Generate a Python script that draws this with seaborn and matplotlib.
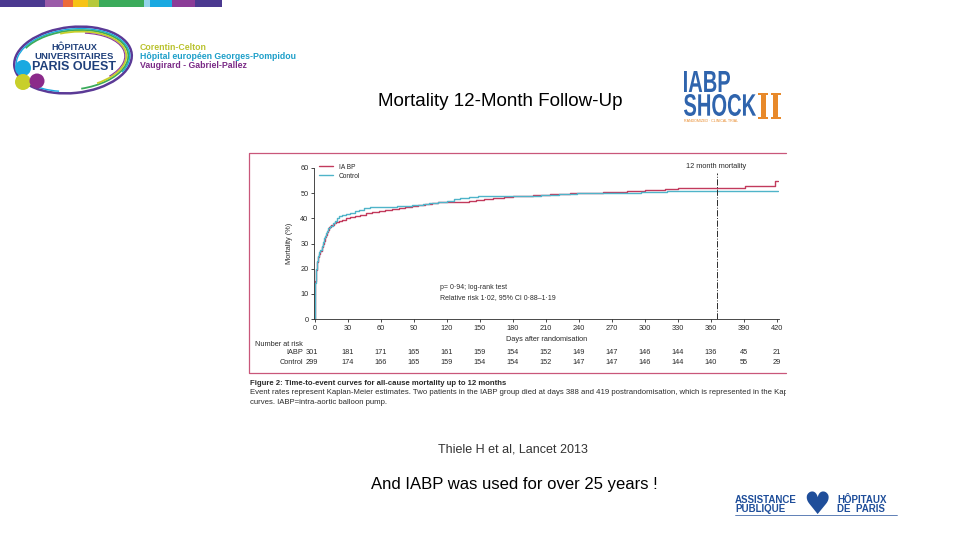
import matplotlib
matplotlib.use("Agg")
import matplotlib.pyplot as plt
import matplotlib.patches as mpatches
from matplotlib.textpath import TextPath
from matplotlib.font_manager import FontProperties
from matplotlib.transforms import Affine2D, blended_transform_factory
import pandas as pd
import seaborn as sns

# Kaplan-Meier curves (days after randomisation, mortality %)
iabp_days = [0, 0.4, 1, 2, 3, 4, 5, 6, 7, 8, 9, 10, 11, 12, 13, 15, 17, 19, 22, 25,
             28, 32, 36, 41, 46, 52, 58, 64, 70, 76, 82, 88, 94, 100, 106, 112, 140,
             146, 154, 162, 172, 180, 198, 214, 232, 262, 276, 284, 300, 318, 330,
             391, 418, 421]
iabp_mort = [0, 15.0, 19.5, 22.5, 24.5, 26.0, 27.0, 28.5, 30.0, 31.0, 32.5, 33.5, 34.5,
             35.5, 36.5, 37.3, 38.0, 38.5, 39.0, 39.5, 40.0, 40.5, 41.0, 41.5, 42.0,
             42.4, 42.8, 43.2, 43.6, 44.0, 44.4, 44.8, 45.2, 45.6, 46.0, 46.4, 46.8,
             47.2, 47.6, 48.0, 48.4, 48.8, 49.2, 49.6, 50.0, 50.3, 50.6, 51.0, 51.3,
             51.6, 52.0, 52.8, 55.0, 55.0]

control_days = [0, 0.4, 1, 2, 3, 4, 5, 6, 7, 8, 9, 10, 11, 12, 14, 16, 18, 20, 22, 25,
                28, 32, 36, 40, 45, 50, 75, 88, 98, 104, 112, 120, 126, 132, 140, 148,
                205, 222, 238, 268, 296, 320, 345, 421]
control_mort = [0, 14.5, 20.0, 23.0, 25.0, 26.5, 27.5, 29.0, 30.5, 32.0, 33.0, 34.0,
                35.0, 36.0, 37.0, 38.0, 39.0, 40.0, 40.8, 41.3, 41.7, 42.3, 43.0, 43.5,
                44.0, 44.5, 44.9, 45.3, 45.7, 46.1, 46.5, 47.0, 47.6, 48.2, 48.6, 49.0,
                49.3, 49.6, 49.9, 50.1, 50.4, 50.7, 51.0, 51.0]

# number at risk table
risk_days = [0, 30, 60, 90, 120, 150, 180, 210, 240, 270, 300, 330, 360, 390, 420]
risk_iabp = [301, 181, 171, 165, 161, 159, 154, 152, 149, 147, 146, 144, 136, 45, 21]
risk_control = [299, 174, 166, 165, 159, 154, 154, 152, 147, 147, 146, 144, 140, 55, 29]

IABP_COL = "#c23a5c"
CTRL_COL = "#4fb4c9"
INK = "#2b2b2b"

sns.set_style("ticks")
plt.rcParams["font.family"] = ["Liberation Sans", "DejaVu Sans"]

fig = plt.figure(figsize=(9.6, 5.4), dpi=100)

# background layer in slide pixels (y down) for the logos and slide text
bg = fig.add_axes([0, 0, 1, 1], zorder=0)
bg.set_xlim(0, 960)
bg.set_ylim(540, 0)
bg.axis("off")


def fit_text(s, x0, x1, ytop, ybot, color, weight="bold", family="Liberation Sans"):
    # squeeze a word into a pixel box, the logos use condensed lettering
    tp = TextPath((0, 0), s, size=10, prop=FontProperties(family=family, weight=weight))
    bb = tp.get_extents()
    tr = (Affine2D().translate(-bb.x0, -bb.y0)
          .scale((x1 - x0) / bb.width, -(ybot - ytop) / bb.height)
          .translate(x0, ybot))
    bg.add_patch(mpatches.PathPatch(tp, transform=tr + bg.transData,
                                    facecolor=color, edgecolor="none"))


# coloured strip top left
strip_edges = [0, 45, 63, 73, 88, 99, 144, 150, 172, 195, 222]
strip_cols = ["#4b3990", "#9b5ba8", "#ec6a3a", "#f7c316", "#b6c93c",
              "#3bab5b", "#93d3eb", "#1aa9e1", "#8b3c97", "#4b3990"]
for x0, x1, c in zip(strip_edges[:-1], strip_edges[1:], strip_cols):
    bg.add_patch(mpatches.Rectangle((x0, 0), x1 - x0, 7, color=c, lw=0))

# Hopitaux Universitaires Paris Ouest logo
for w, h, c, lw, t1, t2 in [(118, 66, "#5b3a96", 1.8, 0, 360),
                            (114, 62, "#1aa9e1", 1.0, 120, 20),
                            (111, 59, "#3bab5b", 1.3, 200, 80),
                            (107, 56, "#c8cf2a", 1.3, 250, 50),
                            (104, 53, "#8b3c97", 0.8, 300, 30)]:
    bg.add_patch(mpatches.Arc((73, 60), w, h, angle=-6, theta1=t1, theta2=t2,
                              color=c, lw=lw))
bg.add_patch(mpatches.Circle((23, 68), 8, color="#1aa9e1", lw=0))
bg.add_patch(mpatches.Circle((23, 82), 8, color="#c8cf2a", lw=0))
bg.add_patch(mpatches.Circle((37, 81), 7.5, color="#8b2a8a", lw=0))
hup = "#1e3f7a"
bg.text(74, 47, "HÔPITAUX", fontsize=6.5, weight="bold", color=hup, ha="center", va="center")
bg.text(74, 56.5, "UNIVERSITAIRES", fontsize=6.8, weight="bold", color=hup, ha="center", va="center")
bg.text(74, 66.5, "PARIS OUEST", fontsize=9, weight="bold", color=hup, ha="center", va="center")
bg.text(140, 47, "Corentin-Celton", fontsize=6.3, weight="bold", color="#b9c22e", va="center")
bg.text(140, 56.5, "Hôpital européen Georges-Pompidou", fontsize=6.3, weight="bold",
        color="#1d9fc9", va="center")
bg.text(140, 65.5, "Vaugirard - Gabriel-Pallez", fontsize=6.3, weight="bold",
        color="#7a2a86", va="center")

# IABP-SHOCK II logo
fit_text("IABP", 684, 730, 71, 92, "#2f64ad")
fit_text("SHOCK", 684, 756, 94, 116, "#2f64ad")
fit_text("II", 758, 781, 93, 119, "#e8892a", weight="bold", family="DejaVu Serif")
bg.text(684, 121.5, "RANDOMIZED · CLINICAL TRIAL", fontsize=2.6, color="#e8892a", va="center")

# AP-HP logo bottom right
aphp = "#1f4e9a"
bg.text(735, 500, "ASSISTANCE", fontsize=7, weight="bold", color=aphp, va="center")
bg.text(735, 508.5, "PUBLIQUE", fontsize=7, weight="bold", color=aphp, va="center")
bg.text(837, 500, "HÔPITAUX", fontsize=7, weight="bold", color=aphp, va="center")
bg.text(837, 508.5, "DE  PARIS", fontsize=7, weight="bold", color=aphp, va="center")
bg.text(817, 505, "♥", fontsize=22, color=aphp, ha="center", va="center",
        family="DejaVu Sans")
bg.plot([735, 897], [515, 515], color=aphp, lw=0.5)

# slide text
bg.text(500, 101, "Mortality 12-Month Follow-Up", fontsize=13.5, ha="center", va="center",
        color="black")
bg.text(513, 449, "Thiele H et al, Lancet 2013", fontsize=9, ha="center", va="center",
        color="#333333")
bg.text(514, 484, "And IABP was used for over 25 years !", fontsize=12, ha="center",
        va="center", color="black")

# frame of the pasted figure
bg.plot([786, 249, 249, 786], [153, 153, 373, 373], color="#c9577a", lw=0.9)

# Kaplan-Meier plot
ax = fig.add_axes([314 / 960, 1 - 319 / 540, 465 / 960, 151 / 540], zorder=2)
ax.patch.set_alpha(0)
sns.lineplot(data=pd.DataFrame({"days": iabp_days, "mortality": iabp_mort}),
             x="days", y="mortality", ax=ax, color=IABP_COL, lw=1.0,
             drawstyle="steps-post", estimator=None, label="IA BP")
sns.lineplot(data=pd.DataFrame({"days": control_days, "mortality": control_mort}),
             x="days", y="mortality", ax=ax, color=CTRL_COL, lw=1.0,
             drawstyle="steps-post", estimator=None, label="Control")

ax.set_xlim(-0.9, 421.8)
ax.set_ylim(0, 60)
ax.set_xticks(risk_days)
ax.set_yticks(range(0, 61, 10))
sns.despine(ax=ax)
for sp in ["left", "bottom"]:
    ax.spines[sp].set_color(INK)
    ax.spines[sp].set_linewidth(0.6)
ax.tick_params(labelsize=5.3, length=2.5, width=0.6, pad=1.5, colors=INK)
ax.set_xlabel("Days after randomisation", fontsize=5.3, color=INK, labelpad=3)
ax.set_ylabel("Mortality (%)", fontsize=5.3, color=INK, labelpad=5)

ax.axvline(365, ymax=0.97, color=INK, lw=0.7, ls="-.")
ax.text(365, 60.4, "12 month mortality", fontsize=5.3, ha="center", va="center", color=INK)
ax.text(114, 12.7, "p= 0·94; log-rank test", fontsize=5, va="center", color=INK)
ax.text(114, 8.7, "Relative risk 1·02, 95% CI 0·88–1·19", fontsize=5, va="center",
        color=INK)

ax.legend(loc="upper left", bbox_to_anchor=(0.0, 1.06), frameon=False, fontsize=4.8,
          handlelength=2.2, labelspacing=0.3, borderaxespad=0.3)

# number at risk rows, x from the plot scale, y in slide pixels
risk_tr = blended_transform_factory(ax.transData, bg.transData)
bg.text(255, 344, "Number at risk", fontsize=5.3, color=INK, va="center")
bg.text(303, 353, "IABP", fontsize=5.3, color=INK, ha="right", va="center")
bg.text(303, 363, "Control", fontsize=5.3, color=INK, ha="right", va="center")
for d, a, c in zip(risk_days, risk_iabp, risk_control):
    bg.text(d - 3 if d == 0 else d, 353, str(a), fontsize=5.3, color=INK, ha="center",
            va="center", transform=risk_tr)
    bg.text(d - 3 if d == 0 else d, 363, str(c), fontsize=5.3, color=INK, ha="center",
            va="center", transform=risk_tr)

# caption under the figure, cut at the right edge like the pasted image
cap = fig.add_axes([249 / 960, 1 - 412 / 540, (786 - 249) / 960, 36 / 540], zorder=1)
cap.set_xlim(249, 786)
cap.set_ylim(412, 376)
cap.axis("off")
cap.text(250, 383.5, "Figure 2: Time-to-event curves for all-cause mortality up to 12 months",
         fontsize=5.6, weight="bold", color=INK, va="center", clip_on=True)
cap.text(250, 393, "Event rates represent Kaplan-Meier estimates. Two patients in the IABP group "
         "died at days 388 and 419 postrandomisation, which is represented in the Kaplan-Meier",
         fontsize=5.6, color=INK, va="center", clip_on=True)
cap.text(250, 402, "curves. IABP=intra-aortic balloon pump.", fontsize=5.6, color=INK,
         va="center", clip_on=True)

fig.savefig("out.png", dpi=100)
